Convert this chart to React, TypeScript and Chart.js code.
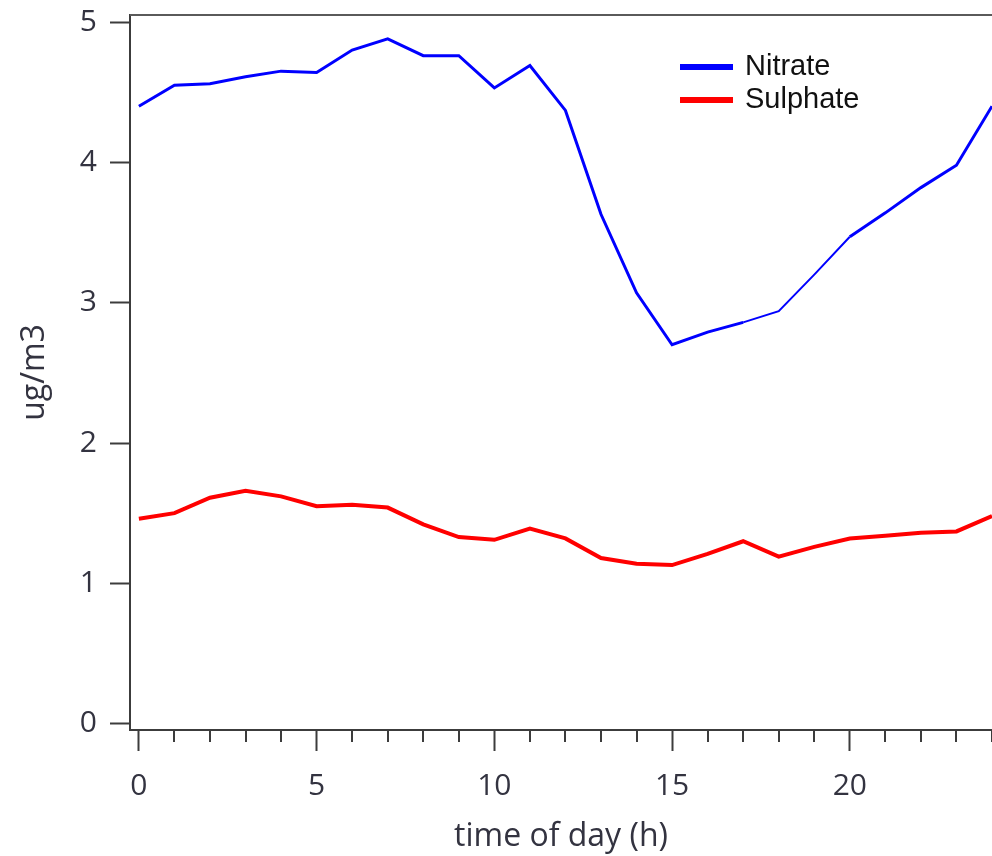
import React, { useEffect, useRef } from "react";
import { Chart, registerables } from "chart.js";

Chart.register(...registerables);

const hours = [0, 1, 2, 3, 4, 5, 6, 7, 8, 9, 10, 11, 12, 13, 14, 15, 16, 17, 18, 19, 20, 21, 22, 23, 24];
const nitrate = [4.40, 4.55, 4.56, 4.61, 4.65, 4.64, 4.80, 4.88, 4.76, 4.76, 4.53, 4.69, 4.37, 3.63, 3.07, 2.70, 2.79, 2.86, 2.94, 3.20, 3.47, 3.64, 3.82, 3.98, 4.40];
const sulphate = [1.46, 1.50, 1.61, 1.66, 1.62, 1.55, 1.56, 1.54, 1.42, 1.33, 1.31, 1.39, 1.32, 1.18, 1.14, 1.13, 1.21, 1.30, 1.19, 1.26, 1.32, 1.34, 1.36, 1.37, 1.48];
const xTicks = [0, 1, 2, 3, 4, 5, 6, 7, 8, 9, 10, 11, 12, 13, 14, 15, 16, 17, 18, 19, 20, 21, 22, 23, 24];
const yTicks = [0, 1, 2, 3, 4, 5];
const seriesNames = ["Nitrate", "Sulphate"];
const seriesColors = ["#0000ff", "#ff0000"];
const xTitle = "time of day (h)";
const yTitle = "ug/m3";

const AXIS_COLOR = "#3c3c3c";
const TEXT_COLOR = "#333340";

const decorPlugin = {
  id: "decor",
  afterDraw(chart: any) {
    const { ctx, chartArea, scales } = chart;
    const xs = scales.x;
    ctx.save();
    // top border
    ctx.strokeStyle = "#5a5a5a";
    ctx.lineWidth = 2;
    ctx.beginPath();
    ctx.moveTo(chartArea.left, chartArea.top);
    ctx.lineTo(chartArea.right + 2, chartArea.top);
    ctx.stroke();
    // minor x ticks
    ctx.strokeStyle = AXIS_COLOR;
    ctx.lineWidth = 2;
    ctx.beginPath();
    xTicks.forEach((v) => {
      if (v % 5 !== 0) {
        const px = Math.round(xs.getPixelForValue(v));
        ctx.moveTo(px, chartArea.bottom);
        ctx.lineTo(px, chartArea.bottom + 12);
      }
    });
    ctx.stroke();
    // legend
    const lx = 680;
    const ly = [67, 100];
    ctx.font = "29px 'Liberation Sans', Arial, sans-serif";
    ctx.textBaseline = "middle";
    ctx.textAlign = "left";
    seriesNames.forEach((name, i) => {
      ctx.strokeStyle = seriesColors[i];
      ctx.lineWidth = 6;
      ctx.beginPath();
      ctx.moveTo(lx, ly[i]);
      ctx.lineTo(lx + 53, ly[i]);
      ctx.stroke();
      ctx.fillStyle = "#111";
      ctx.fillText(name, lx + 65, ly[i]);
    });
    ctx.restore();
  },
};

export default function App() {
  const ref = useRef<HTMLCanvasElement>(null);
  useEffect(() => {
    if (!ref.current) return;
    const chart = new Chart(ref.current, {
      type: "line",
      data: {
        datasets: [
          {
            label: seriesNames[0],
            data: hours.map((h, i) => ({ x: h, y: nitrate[i] })),
            borderColor: seriesColors[0],
            borderWidth: 3,
            pointRadius: 0,
            tension: 0,
            segment: {
              borderWidth: (c: any) => (c.p0DataIndex >= 17 && c.p0DataIndex < 20 ? 2 : 3),
            },
          },
          {
            label: seriesNames[1],
            data: hours.map((h, i) => ({ x: h, y: sulphate[i] })),
            borderColor: seriesColors[1],
            borderWidth: 4,
            pointRadius: 0,
            tension: 0,
          },
        ],
      },
      options: {
        animation: false,
        responsive: false,
        devicePixelRatio: 1,
        layout: { padding: { top: 15, right: 0, left: 0, bottom: 0 } },
        plugins: { legend: { display: false }, tooltip: { enabled: false } },
        scales: {
          x: {
            type: "linear",
            min: -0.25,
            max: 24,
            afterBuildTicks: (s: any) => {
              s.ticks = xTicks.map((v) => ({ value: v }));
            },
            afterFit: (s: any) => {
              s.height = 126;
              s.paddingLeft = 0;
              s.paddingRight = 0;
              s.paddingTop = 0;
              s.paddingBottom = 0;
            },
            ticks: {
              autoSkip: false,
              maxRotation: 0,
              padding: 17,
              color: TEXT_COLOR,
              font: { family: "'Open Sans'", size: 30 },
              callback: (v: any) => (Number(v) % 5 === 0 ? String(v) : ""),
            },
            grid: {
              drawOnChartArea: false,
              tickLength: 21,
              tickWidth: 2,
              tickColor: (c: any) => (c.tick && c.tick.value % 5 === 0 ? AXIS_COLOR : "rgba(0,0,0,0)"),
            },
            border: { display: true, color: AXIS_COLOR, width: 2 },
            title: {
              display: true,
              text: xTitle,
              color: TEXT_COLOR,
              font: { family: "'Open Sans'", size: 32 },
              padding: { top: 0, bottom: 0 },
            },
          },
          y: {
            type: "linear",
            min: -0.045,
            max: 5.05,
            afterBuildTicks: (s: any) => {
              s.ticks = yTicks.map((v) => ({ value: v }));
            },
            afterFit: (s: any) => {
              s.width = 130;
              s.paddingLeft = 0;
              s.paddingRight = 0;
              s.paddingTop = 0;
              s.paddingBottom = 0;
            },
            ticks: {
              padding: 13,
              color: TEXT_COLOR,
              font: { family: "'Open Sans'", size: 30 },
            },
            grid: {
              drawOnChartArea: false,
              tickLength: 20,
              tickWidth: 2,
              tickColor: AXIS_COLOR,
            },
            border: { display: true, color: AXIS_COLOR, width: 2 },
            title: {
              display: true,
              text: yTitle,
              color: TEXT_COLOR,
              font: { family: "'Open Sans'", size: 32 },
              padding: { top: 16, bottom: 0 },
            },
          },
        },
      },
      plugins: [decorPlugin],
    });
    return () => chart.destroy();
  }, []);
  return (
    <div style={{ position: "absolute", left: 0, top: 0, width: 992, height: 856, background: "#fff" }}>
      <canvas ref={ref} width={992} height={856} />
    </div>
  );
}
